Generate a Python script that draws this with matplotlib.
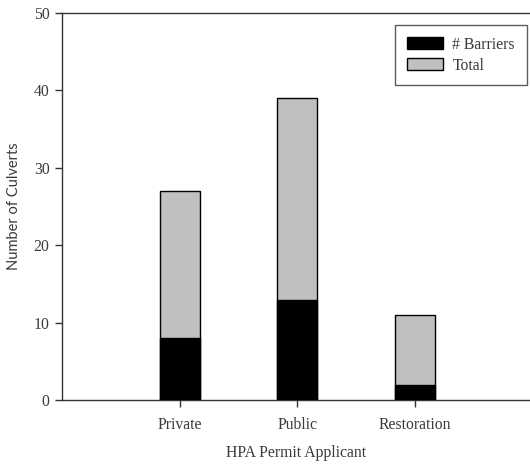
import numpy as np
import matplotlib.pyplot as plt

plt.rcParams['font.family'] = ['Liberation Serif', 'DejaVu Serif']

categories = ["Private", "Public", "Restoration"]
total = [27, 39, 11]
barriers = [8, 13, 2]

fig = plt.figure(figsize=(5.30, 4.66), dpi=100)
ax = fig.add_axes([0.117, 0.141, 0.883, 0.831])

x = np.arange(len(categories))
w = 0.34
ax.bar(x, total, width=w, color="#c0c0c0", edgecolor="black", linewidth=1.0, label="Total", zorder=2)
ax.bar(x, barriers, width=w, color="black", edgecolor="black", linewidth=1.0, label="# Barriers", zorder=3)

ax.set_xlim(-1.0, 2.98)
ax.set_ylim(0, 50)
ax.set_yticks([0, 10, 20, 30, 40, 50])
ax.set_xticks(x)
ax.set_xticklabels(categories)

txt = "#3a3a3a"
fs = 11.3
ax.tick_params(axis="both", direction="out", length=5, width=1, colors="#333333", labelsize=fs, labelcolor=txt)
ax.tick_params(axis="y", pad=4)
ax.tick_params(axis="x", pad=7)
ax.spines["right"].set_visible(False)
for s in ["left", "top", "bottom"]:
    ax.spines[s].set_color("#333333")
    ax.spines[s].set_linewidth(1.0)

ax.set_ylabel("Number of Culverts", fontsize=10.5, color=txt, labelpad=9, family=["Lato", "DejaVu Sans"])
ax.set_xlabel("HPA Permit Applicant", fontsize=fs, color=txt, labelpad=9)

handles, labels = ax.get_legend_handles_labels()
leg = ax.legend(handles[::-1], labels[::-1], loc="upper right", bbox_to_anchor=(0.993, 0.969),
                fontsize=fs, frameon=True, fancybox=False, handlelength=2.3, handleheight=0.8,
                handletextpad=0.6, borderpad=0.75, labelspacing=0.3, borderaxespad=0)
leg.get_frame().set_edgecolor("#333333")
leg.get_frame().set_linewidth(1.0)
for t in leg.get_texts():
    t.set_color(txt)

fig.savefig("out.png", dpi=100)
